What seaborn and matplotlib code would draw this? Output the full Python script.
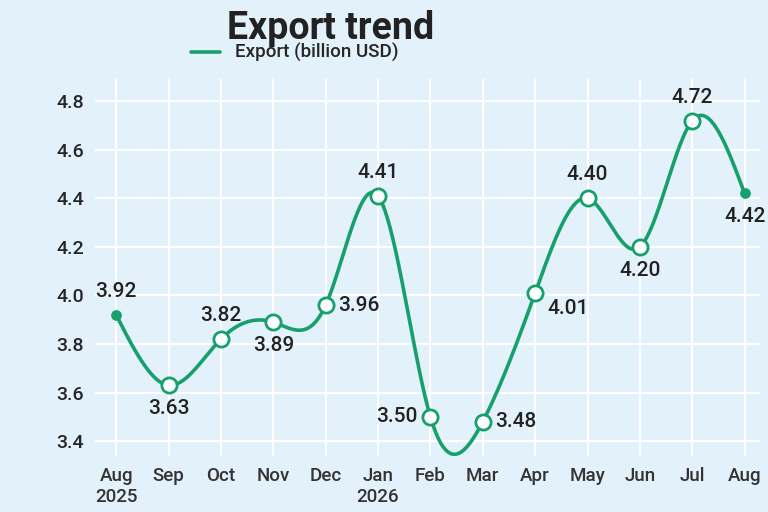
import numpy as np
import pandas as pd
import matplotlib
matplotlib.use("Agg")
import matplotlib.pyplot as plt
import seaborn as sns

months = ["Aug\n2025", "Sep", "Oct", "Nov", "Dec", "Jan\n2026", "Feb", "Mar", "Apr", "May", "Jun", "Jul", "Aug"]
exports = [3.92, 3.63, 3.82, 3.89, 3.96, 4.41, 3.50, 3.48, 4.01, 4.40, 4.20, 4.72, 4.42]
label_pos = ["above", "below", "above", "below", "right", "above", "left", "right", "right", "above", "below", "above", "below"]

sns.set_theme(style="white")
plt.rcParams['font.family'] = ['Roboto', 'DejaVu Sans']
green = "#17a06c"
bg = "#e3f1fa"

x = np.arange(len(exports), dtype=float)
y = np.array(exports)

# natural cubic spline for the smooth line
n = len(x)
h = np.diff(x)
A = np.zeros((n, n)); b = np.zeros(n)
A[0, 0] = A[-1, -1] = 1
for i in range(1, n - 1):
    A[i, i - 1] = h[i - 1]; A[i, i] = 2 * (h[i - 1] + h[i]); A[i, i + 1] = h[i]
    b[i] = 3 * ((y[i + 1] - y[i]) / h[i] - (y[i] - y[i - 1]) / h[i - 1])
c = np.linalg.solve(A, b)
xs, ys = [], []
for i in range(n - 1):
    t = np.linspace(0, h[i], 40)
    bi = (y[i + 1] - y[i]) / h[i] - h[i] * (2 * c[i] + c[i + 1]) / 3
    di = (c[i + 1] - c[i]) / (3 * h[i])
    xs.extend(x[i] + t); ys.extend(y[i] + bi * t + c[i] * t**2 + di * t**3)
curve = pd.DataFrame({"x": xs, "y": ys})
pts = pd.DataFrame({"x": x, "y": y})

fig = plt.figure(figsize=(7.68, 5.12), dpi=100)
fig.patch.set_facecolor(bg)
ax = fig.add_axes([0.124, 0.11, 0.866, 0.735])
ax.set_facecolor(bg)
sns.lineplot(data=curve, x="x", y="y", color=green, lw=2.6, ax=ax, label="Export (billion USD)")
inner = pts.iloc[1:-1]
ax.scatter(inner.x, inner.y, s=120, facecolor="white", edgecolor=green, linewidth=2, zorder=3)
ends = pts.iloc[[0, -1]]
ax.scatter(ends.x, ends.y, s=45, color=green, zorder=3)

off = {"above": (0, 10, "center", "bottom"), "below": (0, -10, "center", "top"),
       "right": (9, 0, "left", "center"), "left": (-9, 0, "right", "center")}
for xi, yi, p in zip(x, y, label_pos):
    dx, dy, ha, va = off[p]
    if p == "right" and xi == 8:
        dy = -4; va = "top"
    ax.annotate(f"{yi:.2f}", (xi, yi), xytext=(dx, dy), textcoords="offset points",
                ha=ha, va=va, fontsize=15, fontweight="medium", color="#222222")

ax.set_xlim(-0.4, 12.3)
ax.set_ylim(3.34, 4.89)
ax.set_yticks([3.4, 3.6, 3.8, 4.0, 4.2, 4.4, 4.6, 4.8])
ax.set_yticklabels([f"{v:.1f}" for v in ax.get_yticks()], fontsize=14, fontweight="medium")
ax.set_xticks(x)
ax.set_xticklabels(months, fontsize=13.5, fontweight="medium", color="#333333")
ax.grid(True, color="white", lw=1.5)
ax.set_axisbelow(True)
for s in ax.spines.values():
    s.set_visible(False)
ax.tick_params(length=0, pad=8)
ax.set_xlabel(""); ax.set_ylabel("")
leg = ax.legend(loc="lower center", bbox_to_anchor=(0.3, 1.0), frameon=False, fontsize=13.5,
                handlelength=1.5, prop={"weight": "medium", "size": 13.5})
fig.text(0.43, 0.945, "Export trend", ha="center", va="center", fontsize=27, fontweight="bold", color="#222222")
fig.savefig("out.png", dpi=100, facecolor=bg)
